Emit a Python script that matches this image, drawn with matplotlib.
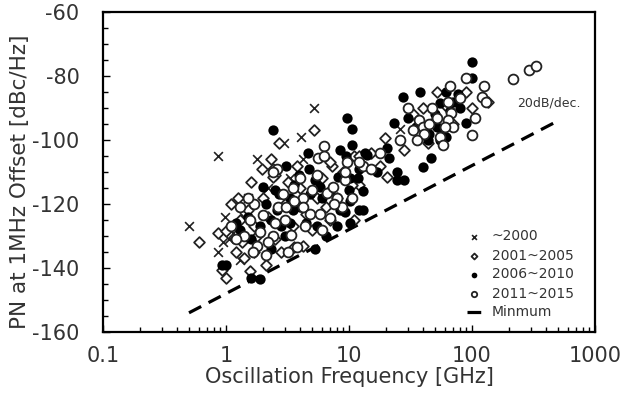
import numpy as np
import matplotlib
matplotlib.use("Agg")
import matplotlib.pyplot as plt
from matplotlib.ticker import MultipleLocator, NullFormatter

plt.rcParams['font.family'] = ['DejaVu Sans']
plt.rcParams['axes.unicode_minus'] = False

# ~2000
f_2000 = [0.5, 0.86, 0.86, 0.95, 0.98, 1.05, 1.3, 1.4, 1.8, 2.95, 4.1, 4.2, 5.2, 26,
          1.5, 2.2, 1.15, 3.3]
pn_2000 = [-127, -105, -135, -132, -124, -131, -137.5, -124, -106, -101, -99, -106, -90, -96.5,
           -118, -115, -129, -112]

# 2001~2005
f_2005 = [0.6, 0.86, 1.0, 0.93, 1.0, 1.57, 1.35, 1.7, 1.1, 1.6, 1.95, 2.4, 2.5, 2.7, 5.2, 7.3,
          1.3, 1.5, 1.7, 2.0, 2.2, 2.5, 3.0, 3.5, 4.0, 4.5, 5.5, 6.0, 7.0, 2.8, 1.2, 1.4,
          2.3, 5.0, 9.0, 12, 8.0, 3.2, 1.8, 4.2, 6.5, 3.8, 2.1, 1.25, 11, 15,
          7.0, 2.4, 12, 10.5, 11, 3.6,
          52, 90, 100, 135, 19.5, 18, 20.5, 40, 44, 33, 70, 60, 28]
pn_2005 = [-132, -129, -128.5, -140.5, -143, -141, -132, -135, -120, -113, -109, -109, -111, -101, -97, -108,
           -125, -122, -127, -118, -124, -131, -120, -127, -115, -123, -118, -112, -125, -135, -135, -137,
           -106, -128, -110, -114, -118, -113, -130, -133, -121, -108, -139, -118, -105, -104,
           -107, -111.5, -105, -114, -125, -133.4,
           -85, -85, -90, -88, -99.5, -108, -111.5, -90, -101, -92, -95, -89, -103]

# 2006~2010
f_2010 = [0.93, 1.0, 1.6, 1.9, 2.4, 9.7, 10.5, 3.1, 4.6, 4.7, 8.4, 9.5, 10.5, 12, 3.6, 2.0,
          2.5, 3.3, 1.3, 1.9, 1.8, 2.3, 5.3, 8.0, 10.2, 9.2, 8.4, 10.2, 14, 17, 8.2, 10.2,
          11.8, 13, 10, 5.3, 5.8, 2.7, 2.6, 2.3, 3.3, 5.5, 12,
          1.5, 2.1, 3.0, 4.0, 4.5, 6.0, 7.0, 3.5, 1.6, 2.8, 6.5, 4.8, 1.2, 3.9,
          100, 100, 27.5, 38, 61, 77, 55, 66, 80, 90, 30, 23, 47, 52, 57, 44, 55, 62,
          20.5, 21, 46, 40, 24.5, 24.5, 28, 13.5, 13, 50, 70, 45, 35]
pn_2010 = [-139, -139, -143, -143.5, -97, -93, -96.5, -108, -104, -109, -103, -105, -101.5, -109, -114, -114.7,
           -115.6, -118, -128, -127, -133, -134, -134, -127, -126, -122.5, -122, -119, -104.7, -110, -111.5, -112,
           -112, -116, -115.6, -112.5, -114.7, -117, -122, -125, -126, -127, -122,
           -124, -120, -130, -121, -126, -118, -116, -122, -131, -127, -130, -117, -126, -111,
           -75.6, -80.6, -86.5, -85, -85, -85.6, -88.5, -91, -90, -94.7, -93, -94.7, -94.7, -96, -97.5, -100, -100, -99,
           -102.5, -105.6, -105.6, -108.4, -110, -112.5, -112.5, -104, -122, -92, -88, -98, -96]

# 2011~2015
f_2015 = [215, 290, 330, 124, 120, 130, 106, 100, 90, 66, 30, 47, 64, 68, 37, 40, 41, 36, 26,
          55, 58, 64, 13, 70, 52, 80, 45, 33, 60,
          6.3, 5.6, 9.6, 12, 5.5, 5.0, 6.6, 8.0, 4.2, 4.2, 4.8, 5.8, 7.0, 3.4, 4.4, 2.65, 2.9,
          10.5, 2.6, 3.5, 3.8, 2.4, 3.1, 8.8, 7.4, 9.2, 6.3, 9.2,
          1.7, 2.0, 1.57, 1.9, 1.8, 2.1, 1.65, 2.2, 2.4, 1.4, 1.3, 1.1, 1.5, 2.5, 3.0, 3.6,
          4.0, 6.0, 7.5, 15, 18, 3.2, 1.2]
pn_2015 = [-81, -78, -77, -83, -86.5, -88, -93, -98.5, -80.6, -83, -90, -90, -88, -91.5, -93.7, -96, -98, -100, -100,
           -99, -101.5, -93.7, -108, -96, -93, -87, -95, -97, -96,
           -102, -105.6, -107, -107, -111, -115.6, -116.6, -118, -118, -121, -123, -123, -124.5, -129.7, -127, -121, -117,
           -118, -109, -115, -133.4, -130, -121, -121, -114.7, -112.5, -105, -110,
           -120, -123.5, -125, -128.7, -133, -136, -135, -132, -110, -130, -121, -127, -118, -126, -125, -119,
           -112, -128, -120, -109, -104, -135, -131]

# minimum line, 20 dB/dec.
f_min = [0.5, 500]
pn_min = [-154, -94]

fig = plt.figure(figsize=(6.29, 4.0), dpi=100)
ax = fig.add_axes([0.1638, 0.17, 0.7822, 0.80])

ax.scatter(f_2000, pn_2000, marker='x', s=40, c='#222222', linewidths=1.2, label='~2000', zorder=3)
ax.scatter(f_2005, pn_2005, marker='D', s=30, facecolors='white', edgecolors='#222222',
           linewidths=1.3, label='2001~2005', zorder=3)
ax.scatter(f_2010, pn_2010, marker='o', s=55, c='black', linewidths=0, label='2006~2010', zorder=4)
ax.scatter(f_2015, pn_2015, marker='o', s=50, facecolors='white', edgecolors='#222222',
           linewidths=1.3, label='2011~2015', zorder=5)
ax.plot(f_min, pn_min, color='black', lw=2.3, dashes=(4.3, 2.6), dash_capstyle='butt',
        label='Minmum', zorder=2)

ax.text(420, -88.5, '20dB/dec.', fontsize=9, ha='center', va='center', color='#333333')

ax.set_xscale('log')
ax.set_xlim(0.1, 1000)
ax.set_ylim(-160, -60)
ax.set_xticks([0.1, 1, 10, 100, 1000], labels=['0.1', '1', '10', '100', '1000'])
ax.xaxis.set_minor_formatter(NullFormatter())
ax.yaxis.set_major_locator(MultipleLocator(20))
ax.yaxis.set_minor_locator(MultipleLocator(5))

ax.tick_params(which='both', direction='in', width=1.0, labelsize=15, colors='black')
ax.tick_params(which='major', length=5)
ax.tick_params(which='minor', length=3.5)
ax.tick_params(axis='y', pad=17, labelcolor='#333333')
ax.tick_params(axis='x', pad=10, labelcolor='#333333')
for sp in ax.spines.values():
    sp.set_linewidth(1.6)

ax.set_xlabel('Oscillation Frequency [GHz]', fontsize=15, color='#333333', labelpad=1)
ax.set_ylabel('PN at 1MHz Offset [dBc/Hz]', fontsize=15.5, color='#333333')
ax.yaxis.set_label_coords(-0.148, 0.47)

ax.legend(loc='lower right', frameon=False, fontsize=10, markerscale=0.55, handlelength=1.0,
          handletextpad=0.8, labelspacing=0.36, bbox_to_anchor=(0.982, 0.0), labelcolor='#333333')

fig.savefig('out.png', dpi=100)
